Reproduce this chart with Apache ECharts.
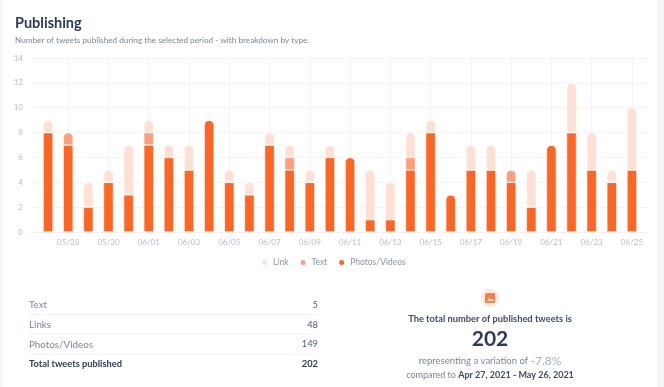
<!DOCTYPE html>
<html>
<head>
<meta charset="utf-8">
<style>
html,body{margin:0;padding:0;background:#f7f7f9;}
#chart{width:664px;height:387px;}
</style>
<script src="https://cdn.jsdelivr.net/npm/echarts@6/dist/echarts.min.js"></script>
</head>
<body>
<div id="chart"></div>
<script>
var days=['05/27','05/28','05/29','05/30','05/31','06/01','06/02','06/03','06/04','06/05','06/06','06/07','06/08','06/09','06/10','06/11','06/12','06/13','06/14','06/15','06/16','06/17','06/18','06/19','06/20','06/21','06/22','06/23','06/24','06/25'];
var photos=[8,7,2,4,3,7,6,5,9,4,3,7,5,4,6,6,1,1,5,8,3,5,5,4,2,7,8,5,4,5];
var texts=[0,1,0,0,0,1,0,0,0,0,0,0,1,0,0,0,0,0,1,0,0,0,0,1,0,0,0,0,0,0];
var links=[1,0,2,1,4,1,1,2,0,1,1,1,1,1,1,0,4,3,2,1,0,2,2,0,3,0,4,3,1,5];
var tableRows=['Text','Links','Photos/Videos','Total tweets published'];
var tableValues=['5','48','149','202'];

var FONT='Lato, "Noto Sans", sans-serif';
var DARK='#2c3a5c';
var MID='#7d859e';
var PALE='#b9bdcc';
var GRIDLINE='#f3f4f7';

// the top piece of each stack gets the rounded cap
function barData(values,above){
	var out=[];
	for(var i=0;i<values.length;i++){
		var covered=false;
		for(var j=0;j<above.length;j++){
			if(above[j][i]>0) covered=true;
		}
		out.push({
			value:values[i],
			itemStyle:{borderRadius:covered?0:[5,5,0,0]}
		});
	}
	return out;
}

function barSeries(name,color,values,above){
	return {
		name:name,
		type:'bar',
		stack:'tweets',
		barWidth:10,
		itemStyle:{color:color,borderColor:'#ffffff',borderWidth:0.6},
		data:barData(values,above)
	};
}

function everyOther(index){
	return index%2==1;
}

var graphics=[
	{type:'rect',shape:{x:2,y:0,width:655,height:387},style:{fill:'#ffffff'},z:-10},
	{type:'text',left:15,top:16,style:{text:'Publishing',font:'700 14.5px '+FONT,fill:DARK}},
	{type:'text',left:15,top:36,style:{text:'Number of tweets published during the selected period - with breakdown by type.',font:'400 8.2px '+FONT,fill:MID}},
	{type:'circle',shape:{cx:490,cy:298,r:9},style:{fill:'#fde9e0'}},
	{type:'rect',shape:{x:485,y:293,width:10,height:10,r:1},style:{fill:'#fb7e4b'}},
	{type:'polygon',shape:{points:[[487,301],[489,298],[491,300],[492,298.5],[494,301]]},style:{fill:'#fde3d8'}},
	{type:'text',style:{x:490,y:319,text:'The total number of published tweets is',font:'700 9.3px '+FONT,fill:'#3e4b6c',align:'center',verticalAlign:'middle'}},
	{type:'text',style:{x:490,y:339,text:'202',font:'700 21px '+FONT,fill:DARK,align:'center',verticalAlign:'middle'}},
	{type:'text',style:{x:490,y:361,align:'center',verticalAlign:'middle',
		text:'{a|representing a variation of }{b|-7.8%}',
		rich:{a:{font:'400 9.5px '+FONT,fill:MID},b:{font:'400 12px '+FONT,fill:'#a9aec0'}}}},
	{type:'text',style:{x:490,y:375,align:'center',verticalAlign:'middle',
		text:'{a|compared to }{c|Apr 27, 2021 - May 26, 2021}',
		rich:{a:{font:'400 9px '+FONT,fill:MID},c:{font:'700 9px '+FONT,fill:'#3e4b6c'}}}}
];

for(var r=0;r<tableRows.length;r++){
	var rowY=305+r*19.7;
	var last=r==tableRows.length-1;
	graphics.push({type:'text',style:{x:29,y:rowY,text:tableRows[r],font:last?'700 9.3px '+FONT:'400 9.8px '+FONT,fill:last?DARK:MID,verticalAlign:'middle'}});
	graphics.push({type:'text',style:{x:318,y:rowY,text:tableValues[r],font:(last?'700':'400')+' 9.3px '+FONT,fill:last?DARK:'#56607c',align:'right',verticalAlign:'middle'}});
	if(!last){
		graphics.push({type:'line',shape:{x1:29,y1:rowY+9.5,x2:318,y2:rowY+9.5},style:{stroke:'#f1f2f5',lineWidth:1}});
	}
}

var myChart=echarts.init(document.getElementById('chart'));
myChart.setOption({
	animation:false,
	backgroundColor:'transparent',
	textStyle:{fontFamily:FONT},
	// second, wider grid only carries the y axis lines, which overrun the bars
	grid:[
		{left:38,right:22,top:58,bottom:155},
		{left:31,right:16,top:58,bottom:155}
	],
	legend:{
		data:['Link','Text','Photos/Videos'],
		top:253,
		left:255,
		icon:'circle',
		itemWidth:7,
		itemHeight:7,
		itemGap:10,
		textStyle:{color:'#8d93a8',fontSize:8.5,fontFamily:FONT}
	},
	xAxis:[
		{
			type:'category',
			gridIndex:0,
			data:days,
			axisLine:{show:false},
			axisTick:{show:false},
			splitLine:{show:true,alignWithLabel:true,interval:everyOther,lineStyle:{color:GRIDLINE}},
			axisLabel:{interval:everyOther,color:PALE,fontSize:8,margin:6}
		},
		{
			type:'value',
			gridIndex:1,
			min:0,
			max:1,
			axisLine:{show:true,lineStyle:{color:'#f1f2f5'}},
			axisTick:{show:false},
			axisLabel:{show:false},
			splitLine:{show:false}
		}
	],
	yAxis:[
		{
			type:'value',
			gridIndex:0,
			min:0,
			max:14,
			interval:2,
			axisLine:{show:false},
			axisTick:{show:false},
			axisLabel:{show:false},
			splitLine:{show:false}
		},
		{
			type:'value',
			gridIndex:1,
			min:0,
			max:14,
			interval:2,
			axisLine:{show:false},
			axisTick:{show:false},
			splitLine:{lineStyle:{color:GRIDLINE}},
			axisLabel:{color:PALE,fontSize:8,margin:8}
		}
	],
	series:[
		barSeries('Photos/Videos','#ff6523',photos,[texts,links]),
		barSeries('Text','#ff9f7c',texts,[links]),
		barSeries('Link','#ffe0d4',links,[])
	],
	graphic:graphics
});
</script>
</body>
</html>
